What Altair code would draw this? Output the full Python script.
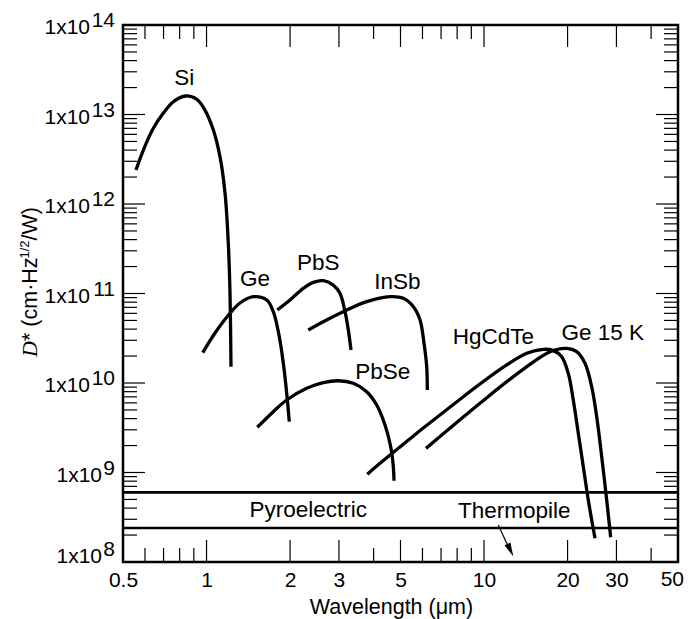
import altair as alt
import pandas as pd

W, H = 555, 537
FONT = "Liberation Sans"

# ---------------- data ----------------
si_wl = [0.557, 0.592, 0.643, 0.698, 0.759, 0.841, 0.922, 0.987, 1.058, 1.118, 1.166, 1.198, 1.215, 1.225]
si_d = [2.40e12, 4.01e12, 7.01e12, 1.03e13, 1.39e13, 1.61e13, 1.48e13, 1.12e13, 6.71e12, 3.38e12, 1.32e12, 3.64e11, 1.005e11, 1.52e10]
ge_wl = [0.969, 1.073, 1.215, 1.320, 1.474, 1.648, 1.740, 1.829, 1.891, 1.945, 1.987]
ge_d = [2.18e10, 3.62e10, 6.01e10, 7.83e10, 9.21e10, 8.46e10, 6.26e10, 3.29e10, 1.66e10, 7.67e9, 3.70e9]
pbs_wl = [1.799, 1.999, 2.232, 2.425, 2.634, 2.862, 3.026, 3.155, 3.243, 3.316]
pbs_d = [6.54e10, 8.46e10, 1.14e11, 1.33e11, 1.39e11, 1.24e11, 1.005e11, 6.26e10, 3.91e10, 2.34e10]
insb_wl = [2.326, 2.634, 3.110, 3.777, 4.583, 5.118, 5.563, 5.880, 6.077, 6.215, 6.246]
insb_d = [3.91e10, 4.84e10, 6.26e10, 8.10e10, 9.21e10, 8.84e10, 7.12e10, 5.06e10, 2.78e10, 1.52e10, 8.35e9]
pbse_wl = [1.524, 1.740, 1.945, 2.296, 2.634, 2.984, 3.380, 3.777, 4.104, 4.397, 4.610, 4.711, 4.738]
pbse_d = [3.20e9, 4.78e9, 6.46e9, 8.72e9, 1.008e10, 1.06e10, 9.92e9, 7.99e9, 5.68e9, 3.40e9, 1.94e9, 1.16e9, 8.10e8]
hgcdte_wl = [3.796, 4.218, 8.42, 12.07, 14.25, 16.35, 17.77, 19.05, 20.12, 20.97, 21.86, 22.79, 23.75, 25.11]
hgcdte_d = [9.55e8, 1.27e9, 7.03e9, 1.59e10, 2.15e10, 2.38e10, 2.30e10, 1.97e10, 1.28e10, 6.46e9, 2.74e9, 1.16e9, 4.93e8, 1.84e8]
ge15_wl = [6.179, 9.67, 13.48, 17.29, 19.86, 21.57, 23.11, 24.43, 25.47, 26.55, 27.67, 28.60]
ge15_d = [1.86e9, 5.93e9, 1.34e10, 2.24e10, 2.44e10, 2.24e10, 1.66e10, 9.10e9, 4.20e9, 1.50e9, 4.93e8, 1.89e8]

band_d = [6.0e8, 2.4e8]          # pyroelectric / thermopile levels

arrow_wl = [11.26, 12.20]
arrow_d = [2.59e8, 1.51e8]
arrowhead_wl = [12.41]
arrowhead_d = [1.376e8]

label_text = ["Si", "Ge", "PbS", "InSb", "PbSe", "HgCdTe", "Ge 15 K", "Pyroelectric", "Thermopile"]
label_wl = [0.831, 1.495, 2.527, 4.869, 4.314, 10.80, 26.77, 2.326, 12.85]
label_d = [2.54e13, 1.44e11, 2.18e11, 1.35e11, 1.34e10, 3.24e10, 3.59e10, 3.81e8, 3.74e8]

x_label_values = [0.5, 1, 2, 3, 5, 10, 20, 30]
x_last_label = [50]
x_major_ticks = [1, 2, 3, 5, 10, 20, 30]
x_minor_ticks = [0.6, 0.7, 0.8, 0.9, 4, 6, 7, 8, 9, 40]
y_exponents = [8, 9, 10, 11, 12, 13, 14]
y_major_ticks = [1e9, 1e10, 1e11, 1e12, 1e13]
y_minor_ticks = [m * 10.0 ** e for e in range(8, 14) for m in range(2, 10)]

# ---------------- tables ----------------
curves = [("Si", si_wl, si_d), ("Ge", ge_wl, ge_d), ("PbS", pbs_wl, pbs_d),
          ("InSb", insb_wl, insb_d), ("PbSe", pbse_wl, pbse_d),
          ("HgCdTe", hgcdte_wl, hgcdte_d), ("Ge15K", ge15_wl, ge15_d)]
rows = []
for name, wl, d in curves:
    for i, (w, v) in enumerate(zip(wl, d)):
        rows.append({"curve": name, "wl": w, "d": v, "order": i})
curve_df = pd.DataFrame(rows)

xscale = alt.Scale(type="log", domain=[0.5, 50], nice=False)
yscale = alt.Scale(type="log", domain=[1e8, 1e14], nice=False)
xaxis = alt.Axis(values=x_label_values, labelExpr="format(datum.value, '~g')",
                 ticks=False, tickSize=0, domain=False, grid=False,
                 labelFont=FONT, labelFontSize=21, labelColor="black",
                 labelPadding=24, labelBaseline="alphabetic", labelFlush=False,
                 labelOverlap=False,
                 title="Wavelength (\u03bcm)", titleFont=FONT, titleFontSize=21.5,
                 titleFontWeight="normal", titleColor="black",
                 titleX=268, titleY=51, titleBaseline="alphabetic", titleAlign="center")


def X(field):
    return alt.X(f"{field}:Q", scale=xscale, axis=xaxis)


def Y(field):
    return alt.Y(f"{field}:Q", scale=yscale, axis=None)


lines = alt.Chart(curve_df).mark_line(color="black", strokeWidth=3.3, interpolate="catmull-rom").encode(
    x=X("wl"), y=Y("d"), detail="curve:N", order="order:Q")

bands = alt.Chart(pd.DataFrame({"d": band_d})).mark_rule(color="black", strokeWidth=2.6).encode(y=Y("d"))

arrow_line = alt.Chart(pd.DataFrame({"wl": [arrow_wl[0]], "d": [arrow_d[0]],
                                     "wl2": [arrow_wl[1]], "d2": [arrow_d[1]]})).mark_rule(
    color="black", strokeWidth=1.2).encode(x=X("wl"), y=Y("d"), x2="wl2:Q", y2="d2:Q")
arrow_head = alt.Chart(pd.DataFrame({"wl": arrowhead_wl, "d": arrowhead_d})).mark_point(
    shape="M0,-1L0.42,0.8L-0.42,0.8Z", filled=True, size=240, angle=155,
    color="black", opacity=1, strokeWidth=0).encode(x=X("wl"), y=Y("d"))

labels = alt.Chart(pd.DataFrame({"t": label_text, "wl": label_wl, "d": label_d})).mark_text(
    font=FONT, fontSize=22.5, color="black", align="center", baseline="middle").encode(
    x=X("wl"), y=Y("d"), text="t:N")

# last x tick label, kept inside the page
last_label = alt.Chart(pd.DataFrame({"v": x_last_label})).mark_text(
    font=FONT, fontSize=21, color="black", align="right", baseline="alphabetic", dx=6).encode(
    x=X("v"), y=alt.value(H + 24), text=alt.Text("v:Q", format="d"))

# inward ticks on all four sides
tick_style = dict(color="black", strokeWidth=1.2)
xmaj = pd.DataFrame({"v": x_major_ticks})
xmin = pd.DataFrame({"v": x_minor_ticks})
ymaj = pd.DataFrame({"v": y_major_ticks})
ymin = pd.DataFrame({"v": y_minor_ticks})
ticks = [
    alt.Chart(xmaj).mark_rule(**tick_style).encode(x=X("v"), y=alt.value(H), y2=alt.value(H - 22)),
    alt.Chart(xmin).mark_rule(**tick_style).encode(x=X("v"), y=alt.value(H), y2=alt.value(H - 14)),
    alt.Chart(xmaj).mark_rule(**tick_style).encode(x=X("v"), y=alt.value(0), y2=alt.value(22)),
    alt.Chart(xmin).mark_rule(**tick_style).encode(x=X("v"), y=alt.value(0), y2=alt.value(14)),
    alt.Chart(ymaj).mark_rule(**tick_style).encode(y=Y("v"), x=alt.value(0), x2=alt.value(22)),
    alt.Chart(ymin).mark_rule(**tick_style).encode(y=Y("v"), x=alt.value(0), x2=alt.value(14)),
    alt.Chart(ymaj).mark_rule(**tick_style).encode(y=Y("v"), x=alt.value(W), x2=alt.value(W - 22)),
    alt.Chart(ymin).mark_rule(**tick_style).encode(y=Y("v"), x=alt.value(W), x2=alt.value(W - 14)),
]

# y tick labels "1x10^n" built from text marks
exp_df = pd.DataFrame({"e": y_exponents})
lab_base = alt.Chart(exp_df).transform_calculate(val="pow(10, datum.e)")
txt = dict(font=FONT, fontSize=21, color="black", align="right", baseline="alphabetic")
ylabels = [
    lab_base.transform_filter("datum.e >= 10").mark_text(dy=9, **txt).encode(
        y=Y("val"), x=alt.value(-33), text=alt.value("1x10")),
    lab_base.transform_filter("datum.e == 9").mark_text(dy=9, **txt).encode(
        y=Y("val"), x=alt.value(-21), text=alt.value("1x10")),
    lab_base.transform_filter("datum.e == 8").mark_text(dy=1, **txt).encode(
        y=Y("val"), x=alt.value(-21), text=alt.value("1x10")),
    lab_base.transform_filter("datum.e >= 9").mark_text(dy=2, **txt).encode(
        y=Y("val"), x=alt.value(-8), text=alt.Text("e:Q", format="d")),
    lab_base.transform_filter("datum.e == 8").mark_text(dy=-6, **txt).encode(
        y=Y("val"), x=alt.value(-8), text=alt.Text("e:Q", format="d")),
]

# y title: D* (cm·Hz^1/2/W), rotated
def rot_text(s, x, y, size, font=FONT, style="normal"):
    return alt.Chart(pd.DataFrame({"t": [s]})).mark_text(
        font=font, fontSize=size, fontStyle=style, color="black", angle=270,
        align="left", baseline="alphabetic").encode(
        text="t:N", x=alt.value(x), y=alt.value(y))

ytitle = [
    rot_text("D", -86, 332, 22, font="Liberation Serif", style="italic"),
    rot_text("* (cm\u00b7Hz", -86, 316, 21.5),
    rot_text("1/2", -94, 233.5, 13),
    rot_text("/W)", -86, 215.5, 21.5),
]

chart = alt.layer(lines, bands, arrow_line, arrow_head, labels, last_label,
                  *ticks, *ylabels, *ytitle).properties(
    width=W, height=H,
    autosize=alt.AutoSizeParams(type="none"),
    padding={"left": 115, "top": 17, "right": 7, "bottom": 57},
).configure_view(stroke="black", strokeWidth=2.5)

chart.save("out.html", embed_options={"renderer": "svg", "actions": False})
